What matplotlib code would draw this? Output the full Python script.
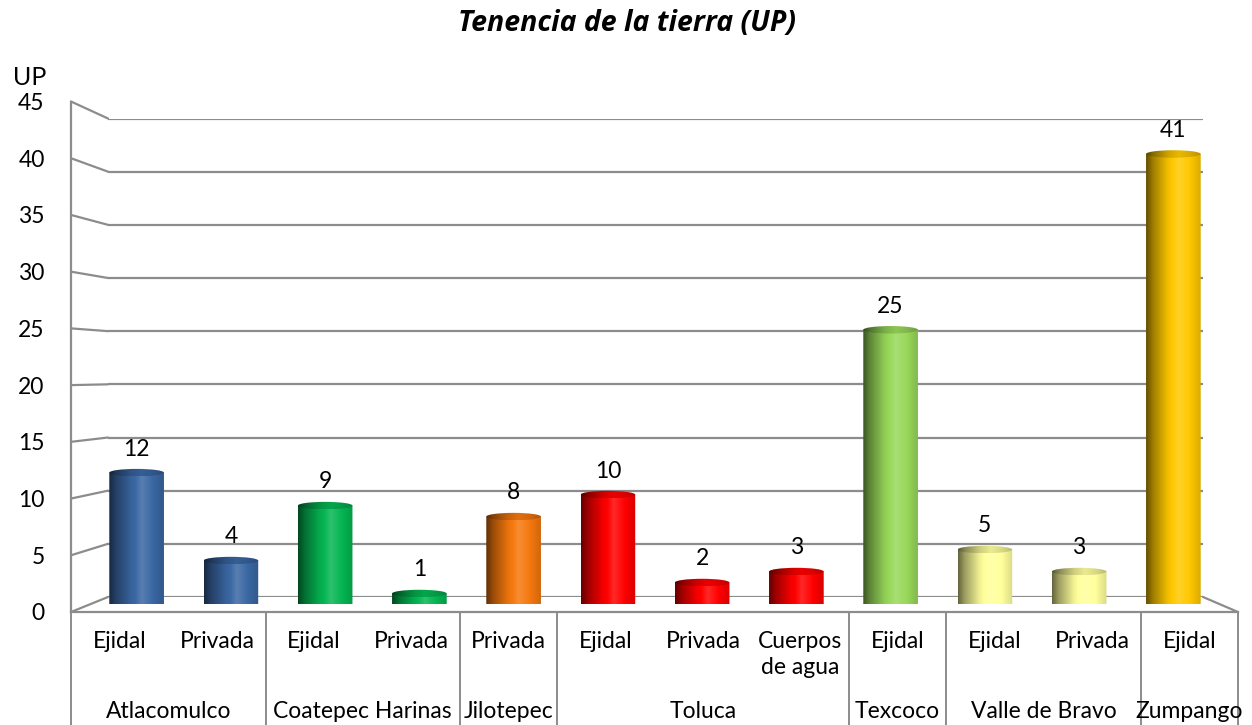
import numpy as np
import matplotlib.pyplot as plt
from matplotlib.colors import to_rgb
from matplotlib.patches import Ellipse, PathPatch, ConnectionPatch
from matplotlib.path import Path

plt.rcParams['font.family'] = ['Lato', 'DejaVu Sans']

# datos
municipios = ['Atlacomulco', 'Coatepec Harinas', 'Jilotepec', 'Toluca',
              'Texcoco', 'Valle de Bravo', 'Zumpango']
tenencia = ['Ejidal', 'Privada', 'Ejidal', 'Privada', 'Privada', 'Ejidal',
            'Privada', 'Cuerpos\nde agua', 'Ejidal', 'Ejidal', 'Privada', 'Ejidal']
grupo = [0, 0, 1, 1, 2, 3, 3, 3, 4, 5, 5, 6]
up = [12, 4, 9, 1, 8, 10, 2, 3, 25, 5, 3, 41]
colores = ['#3A67A3', '#05B552', '#F5780E', '#FF0000', '#98D85A', '#FFFF9C', '#FFC800']
yticks = [0, 5, 10, 15, 20, 25, 30, 35, 40, 45]

W, H = 1252, 725
grid_c = '#8C8C8C'
fs = 16.5
n = len(up)


def box(l, t, r, b):
    return [l / W, 1 - b / H, (r - l) / W, (b - t) / H]


fig = plt.figure(figsize=(W / 100, H / 100), dpi=100)
back = fig.add_axes(box(108, 118.5, 1203, 597))
front = fig.add_axes(box(71, 101.5, 1238, 612))
mid = fig.add_axes(box(89.5, 110, 1220.5, 604.5))
for a in (back, front, mid):
    a.set_xlim(0, n)
    a.set_ylim(0, 45)
    a.patch.set_alpha(0)
back.axis('off')
mid.axis('off')

# pared del fondo y conectores
for v in yticks:
    back.axhline(v, color=grid_c, lw=1.6, zorder=1)
    fig.add_artist(ConnectionPatch((0, v), (0, v), 'data', 'data', axesA=front, axesB=back,
                                   color=grid_c, lw=1.6))
fig.add_artist(ConnectionPatch((n, 0), (n, 0), 'data', 'data', axesA=back, axesB=front,
                               color=grid_c, lw=1.6))

for s in ('top', 'right'):
    front.spines[s].set_visible(False)
for s in ('left', 'bottom'):
    front.spines[s].set_color(grid_c)
    front.spines[s].set_linewidth(1.6)
front.set_xticks([])
front.set_yticks(yticks)
front.tick_params(axis='y', length=0, pad=19, labelsize=fs)
front.text(-0.05, 1.047, 'UP', transform=front.transAxes, fontsize=18, ha='left', va='center')

# etiquetas de categorias
for i, t in enumerate(tenencia):
    front.annotate(t, xy=(i + 0.5, 0), xycoords=('data', 'axes fraction'),
                   xytext=(0, -13.5), textcoords='offset points', ha='center', va='top',
                   fontsize=fs, linespacing=1.3)
limites = [0]
for g in range(len(municipios)):
    idx = [i for i in range(n) if grupo[i] == g]
    front.annotate(municipios[g], xy=((idx[0] + idx[-1] + 1) / 2, 0),
                   xycoords=('data', 'axes fraction'), xytext=(0, -72),
                   textcoords='offset points', ha='center', va='center', fontsize=fs)
    limites.append(idx[-1] + 1)
for b in limites:
    front.plot([b, b], [0, -0.25], transform=front.get_xaxis_transform(),
               color=grid_c, lw=1.4, clip_on=False)


def degradado(c, k=1.0):
    c = np.array(to_rgb(c))
    t = np.linspace(0, 1, 64)
    f = np.interp(t, [0, 0.12, 0.4, 0.6, 0.8, 1.0], [0.4, 0.62, 0.95, 1.08, 1.0, 0.86]) * k
    out = []
    for v in f:
        if v <= 1:
            out.append(c * v)
        else:
            out.append(c + (1 - c) * (v - 1) * 2)
    return np.clip(np.array(out), 0, 1)[None, :, :]


w = 0.58
ry = 0.34
for i, v in enumerate(up):
    x = i + 0.5
    col = colores[grupo[i]]
    th = np.linspace(np.pi, 2 * np.pi, 40)
    verts = [(x - w / 2, v)] + [(x + w / 2 * np.cos(a), ry * np.sin(a)) for a in th] + [(x + w / 2, v), (x - w / 2, v)]
    body = PathPatch(Path(verts, closed=True), fc='none', ec='none', transform=mid.transData)
    mid.add_patch(body)
    im = mid.imshow(degradado(col), extent=(x - w / 2, x + w / 2, -ry, v), aspect='auto',
                    interpolation='bilinear', zorder=3)
    im.set_clip_path(body)
    top = Ellipse((x, v), w, 2 * ry, fc='none', ec='none')
    mid.add_patch(top)
    im2 = mid.imshow(degradado(col, 0.85), extent=(x - w / 2, x + w / 2, v - ry, v + ry),
                     aspect='auto', interpolation='bilinear', zorder=4)
    im2.set_clip_path(top)
    mid.annotate(str(v), xy=(x, v), xytext=(0, 17), textcoords='offset points',
                 ha='center', va='center', fontsize=fs)

mid.set_xlim(0, n)
mid.set_ylim(0, 45)

fig.text(0.501, 0.968, 'Tenencia de la tierra (UP)', ha='center', va='center',
         fontsize=20.5, fontweight='bold', fontstyle='italic', family='Open Sans')

fig.savefig('out.png', dpi=100, facecolor='white')
